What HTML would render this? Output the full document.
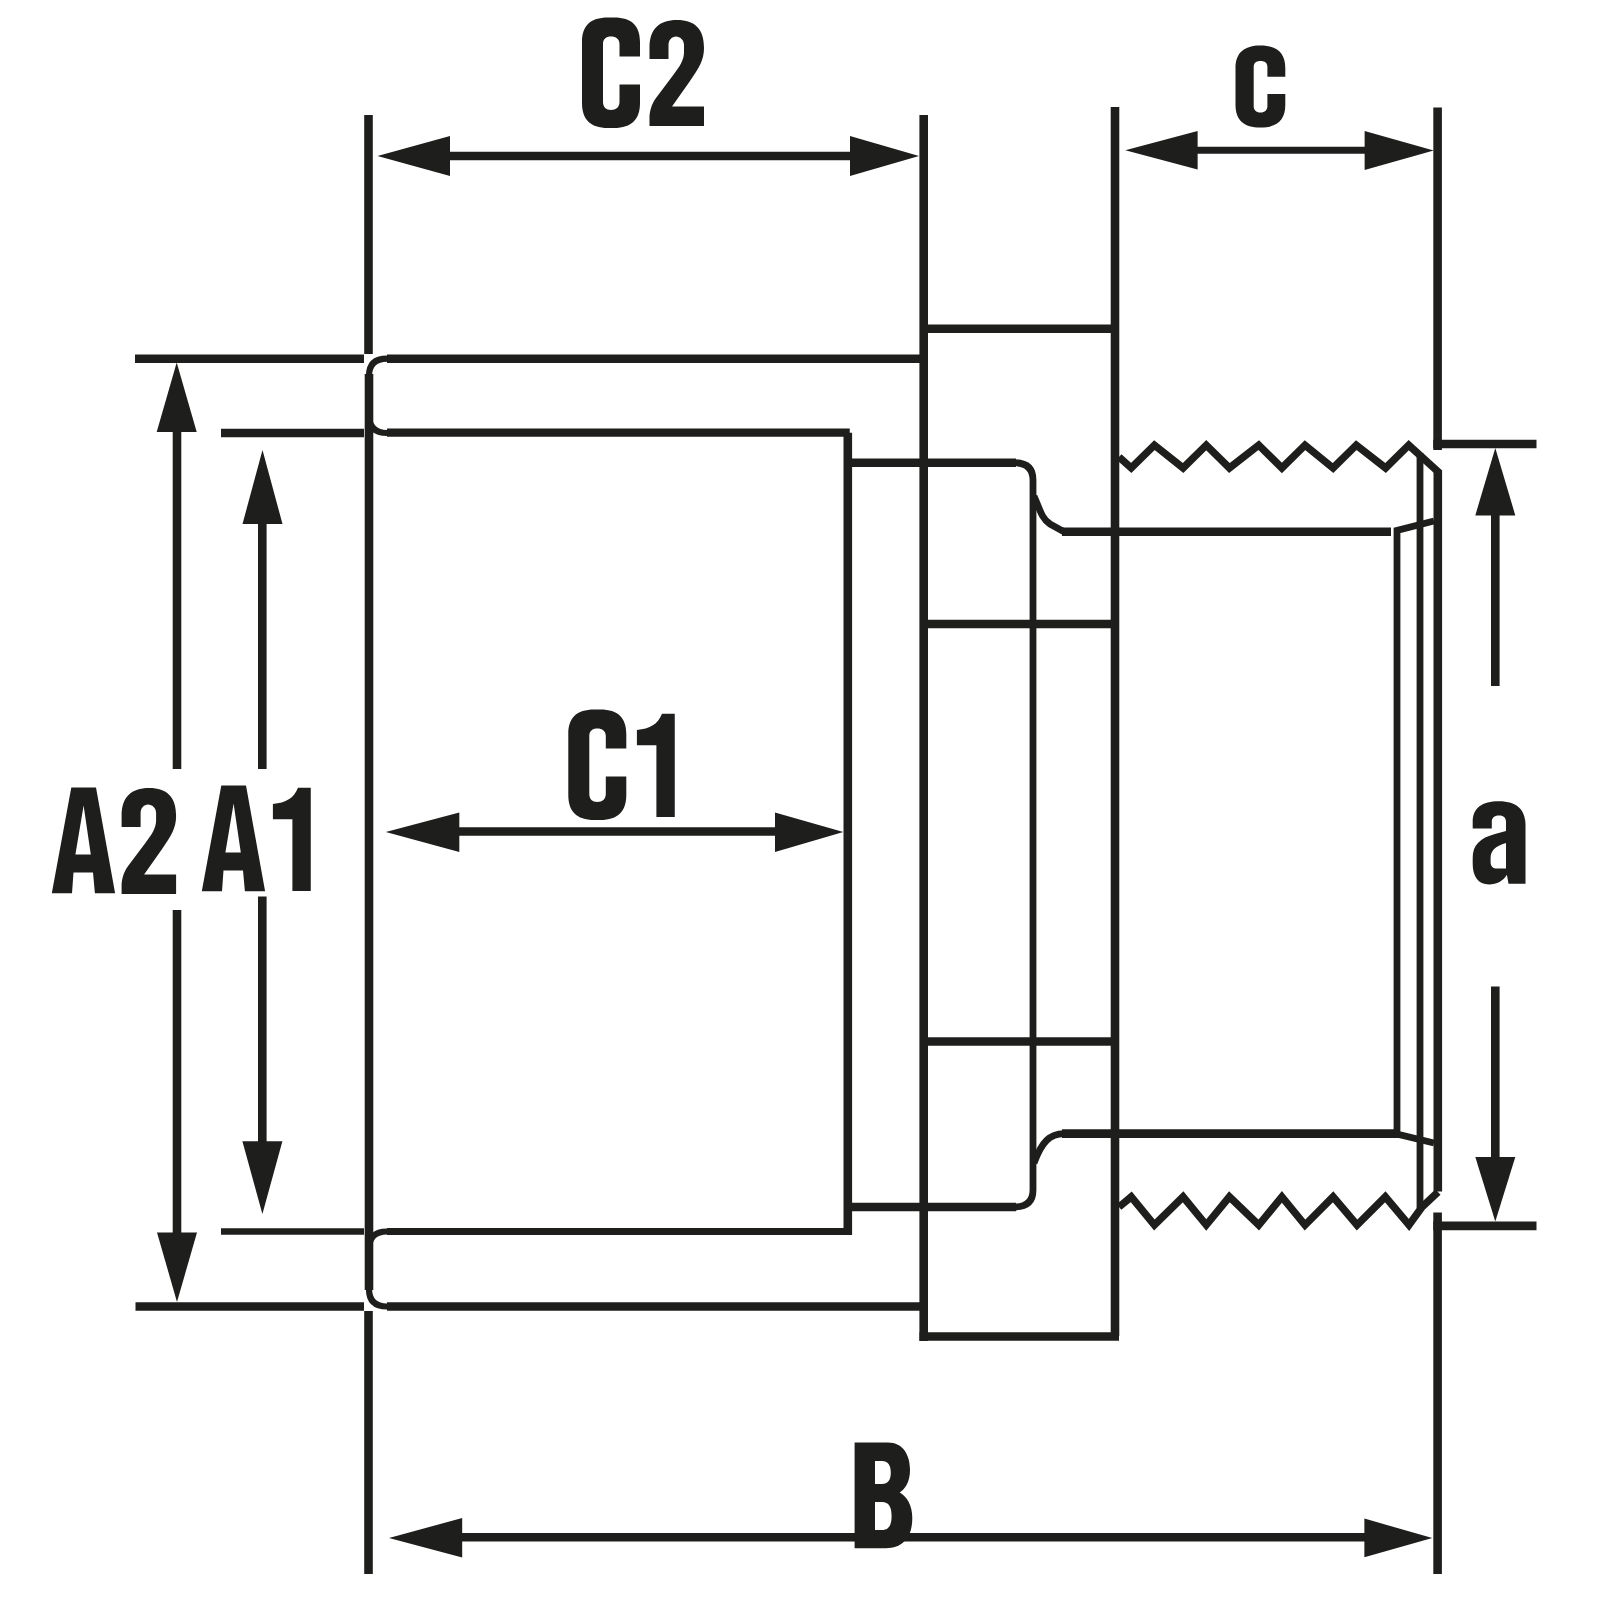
<!DOCTYPE html>
<html><head><meta charset="utf-8"><style>
html,body{margin:0;padding:0;background:#fff;width:1600px;height:1600px;overflow:hidden}
svg{display:block}
</style></head><body>
<svg width="1600" height="1600" viewBox="0 0 1600 1600">
<rect width="1600" height="1600" fill="#fff"/>
<g fill="none" stroke="#1e1e1c" stroke-width="8.6" stroke-linecap="butt" stroke-linejoin="miter">
<!-- extension lines -->
<path d="M368.5 115V354"/>
<path d="M368.5 1311V1574"/>
<path d="M923.7 115V1341"/>
<path d="M1115 107V1336"/>
<path d="M1437.6 107.5V450"/>
<path d="M1433.3 444H1536.5"/>
<path d="M1437.6 1212.4V1574"/>
<path d="M1433.3 1225.9H1536.5"/>
<path d="M135 358.7H364"/>
<path d="M221 433H364"/>
<path d="M221 1231.4H364" stroke-width="6.5"/>
<path d="M135.5 1306.5H364"/>
<!-- dimension shafts -->
<path d="M400 156H890"/>
<path d="M1150 150.25H1400" stroke-width="7.2"/>
<path d="M177 400V769M177 910V1270"/>
<path d="M262.3 490V769M262.3 896.5V1180"/>
<path d="M420 831.5H810"/>
<path d="M420 1537.3H1400"/>
<path d="M1495.3 480V686M1495.3 986.5V1190"/>
<!-- body outline -->
<path d="M387 358.7H923.7"/>
<path d="M387 1306.5H923.7"/>
<path d="M369 374V1290"/>
<path d="M369 376Q369 358.7 387 358.7" stroke-width="6.2"/>
<path d="M369 415Q369 433 387 433" stroke-width="6.2"/>
<path d="M369 1249Q369 1231.5 387 1231.5" stroke-width="6.2"/>
<path d="M369 1289Q369 1306.5 387 1306.5" stroke-width="6.2"/>
<path d="M387 432.55H849.75" stroke-width="8.3"/>
<path d="M847.8 432.75V1234.9"/>
<path d="M387 1231.5H852" stroke-width="6.8"/>
<path d="M923.7 328.7H1119"/>
<path d="M919.5 1336.5H1119"/>
<path d="M923.7 624H1115"/>
<path d="M923.7 1041.5H1115"/>
<path d="M852 462.7H1016"/>
<path d="M852 1207H1016"/>
<path d="M1062 531.7H1391"/>
<path d="M1062 1133.6H1399"/>
<path d="M1437.8 470V1191.5"/>
</g>
<g fill="none" stroke="#1e1e1c" stroke-width="6.8" stroke-linecap="butt" stroke-linejoin="miter">
<path d="M1014 462.7Q1033 462.7 1033 480V1190Q1033 1207 1014 1207"/>
<path d="M1034 496C1040 510 1042 519 1050 524L1064 531.7"/>
<path d="M1064 1133.6C1050 1134 1042 1141 1034 1163"/>
<path d="M1119 457L1131.25 468L1154.4 445.2L1183.1 468L1206.25 445.2L1229.4 468L1258.75 445.2L1281.9 468L1305 445.2L1333.1 468L1356.25 445.2L1385.6 468L1408.75 445.2L1439.5 473" stroke-width="7.4"/>
<path d="M1119 1207L1131.25 1196.8L1154.4 1225L1183.1 1196.8L1206.25 1225L1229.4 1196.8L1258.75 1225L1281.9 1196.8L1305 1225L1333.1 1196.8L1357 1225L1385.3 1196.8L1409 1225L1422 1207L1438 1192" stroke-width="7.4"/>
<path d="M1420 453V1208"/>
<path d="M1434 521L1397 530.5V1134L1434 1143"/>
</g>
<g fill="#1e1e1c" stroke="none">
<!-- arrowheads -->
<path d="M377.5 156L450 136V176Z"/>
<path d="M919 156L850 136V176Z"/>
<path d="M1125.3 150.3L1197.6 131V169.6Z"/>
<path d="M1433.7 150.4L1364.6 131V170Z"/>
<path d="M176.7 362.5L156.7 432H196.7Z"/>
<path d="M177 1302L157 1232.4H197Z"/>
<path d="M262.5 450L242.5 524H282.5Z"/>
<path d="M262.4 1214L242.4 1141.3H282.4Z"/>
<path d="M385.8 832L459.3 812.5V852Z"/>
<path d="M843.3 832L775 812.5V852Z"/>
<path d="M389 1538L462.2 1518V1557.5Z"/>
<path d="M1432.3 1538L1364.4 1518.6V1557.3Z"/>
<path d="M1495.3 448L1475.3 515.4H1515.3Z"/>
<path d="M1495.3 1221.4L1475.3 1157H1515.3Z"/>
</g>
<g fill="#1e1e1c" stroke="none" fill-rule="evenodd">
<!-- C (C2) -->
<path id="gC" d="M640 56.5V42C640 26 632 17.5 614 17.5H608C590 17.5 582 26 582 42V103C582 119 590 128 608 128H614C632 128 640 119 640 103V84.5H619.5V102C619.5 107 616 110 611 110C606 110 603 107 603 102V44C603 39 606 36.5 611 36.5C616 36.5 619.5 39 619.5 44V56.5Z"/>
<!-- 2 (C2) -->
<path id="g2" d="M649.5 126H704V106.5H672L690 81C699 68 704 60 704 48C704 29 695 20 677 20C659 20 649.5 29 649.5 48V59H668.5V45C668.5 40 672 36.5 676 36.5C680 36.5 684 40 684 45V52C684 60 680 66 674 74L656 98C651 105 649.5 112 649.5 118Z"/>
<!-- C1 -->
<use href="#gC" transform="translate(-13.7 691.9)"/>
<path id="g1" d="M662 713.75H674.75V816.9H656.4V745.3H636.9V729.9C650 729 658 724 662 713.75Z"/>
<!-- A2 -->
<path id="gA" d="M51.8 893.3L71.3 787.5H96L115.1 893.3H94.9L93 872.6H73.5L72 893.3ZM75.4 854.6H90.8L83.6 805.5Z"/>
<use href="#g2" transform="translate(-527.9 768)"/>
<!-- A1 -->
<use href="#gA" transform="translate(150 -2)"/>
<use href="#g1" transform="translate(-364 74)"/>
<!-- c -->
<path d="M1285.3 76.8V68C1285.3 53 1277 45.5 1260.5 45.5C1244 45.5 1235.5 53 1235.5 68V105C1235.5 120 1244 127.6 1260.5 127.6C1277 127.6 1285.3 120 1285.3 105V94H1267.4V106C1267.4 110 1265 112.5 1260.5 112.5C1256 112.5 1253.7 110 1253.7 106V67C1253.7 63 1256 61 1260.5 61C1265 61 1267.4 63 1267.4 67V76.8Z"/>
<!-- a -->
<path d="M1472.7 828.5V822C1472.7 808 1482 801.3 1499 801.3C1517 801.3 1525.5 810 1525.5 825V883.7H1508.5L1506.9 874.8C1503 881 1497 884.5 1489 884.5C1478 884.5 1472.7 876 1472.7 864V858C1472.7 845 1480 838 1495 834L1506 831V822C1506 817 1503 815.5 1499 815.5C1494 815.5 1491.8 818 1491.8 822V828.5ZM1506 843C1495 846 1490.6 851 1490.6 858V862C1490.6 866.5 1493 868.6 1497 868.6H1506Z"/>
<!-- B -->
<path d="M854.6 1442.6H888C903 1442.6 910 1455 910 1470C910 1482 905 1489 899.7 1492.5C907 1497 912.3 1505 912.3 1518C912.3 1537 903 1548.2 886 1548.2H854.6ZM875 1460.9V1484H882C888 1484 890.8 1480 890.8 1472.5C890.8 1465 888 1460.9 882 1460.9ZM875 1501.9V1530H882C889 1530 891.6 1525 891.6 1516C891.6 1507 889 1501.9 882 1501.9Z"/>
</g>
</svg>
</body></html>
